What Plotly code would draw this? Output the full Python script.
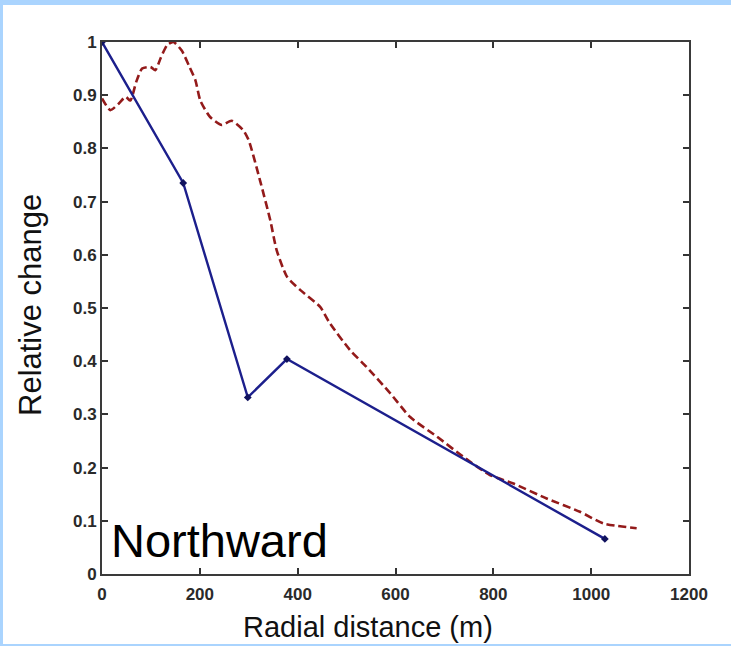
import plotly.graph_objects as go

# Measured profile (blue, with station markers)
station_x = [0, 166, 298, 378, 1028]
station_y = [1.0, 0.735, 0.332, 0.404, 0.066]

# Modelled profile (red, dashed)
model_x = [0, 17, 35, 48, 58, 70, 82, 99, 109, 120, 133, 146, 163, 178, 191,
           201, 221, 245, 265, 289, 300, 323, 344, 357, 378, 405, 446, 466,
           507, 541, 589, 630, 685, 739, 793, 841, 909, 977, 1025, 1093]
model_y = [0.894, 0.872, 0.885, 0.897, 0.890, 0.925, 0.950, 0.953, 0.947,
           0.970, 0.994, 1.000, 0.984, 0.955, 0.928, 0.890, 0.859, 0.844,
           0.852, 0.834, 0.815, 0.740, 0.665, 0.609, 0.559, 0.534, 0.502,
           0.471, 0.421, 0.389, 0.340, 0.295, 0.258, 0.220, 0.186, 0.170,
           0.142, 0.117, 0.095, 0.086]

x_ticks = [0, 200, 400, 600, 800, 1000, 1200]
y_ticks = [0, 0.1, 0.2, 0.3, 0.4, 0.5, 0.6, 0.7, 0.8, 0.9, 1]
y_tick_text = ["0", "0.1", "0.2", "0.3", "0.4", "0.5", "0.6", "0.7", "0.8", "0.9", "1"]

W, H = 731, 646
L, R, T, B = 102, 42, 42, 72
pw, ph = W - L - R, H - T - B


def px(xp):
    return (xp - L) / pw


def py(yp):
    return (H - B - yp) / ph


fig = go.Figure()

fig.add_trace(go.Scatter(
    x=model_x, y=model_y, mode="lines",
    line=dict(color="#931a1a", width=2.6, dash="8px,4px", shape="spline", smoothing=0.6),
    hoverinfo="skip", showlegend=False,
))

fig.add_trace(go.Scatter(
    x=station_x, y=station_y, mode="lines+markers",
    line=dict(color="#1c1f8c", width=2.4),
    marker=dict(symbol="diamond", size=6, color="#10125e"),
    hoverinfo="skip", showlegend=False,
))

tick_font = dict(family="Liberation Sans, Arial", size=17, weight="bold", color="#2a2a2a")

fig.update_xaxes(
    range=[0, 1200], tickvals=x_ticks, ticktext=[str(v) for v in x_ticks],
    ticks="inside", ticklen=6, tickwidth=1.5, tickcolor="#333",
    showline=True, linecolor="#3a3a3a", linewidth=2, mirror="ticks",
    showgrid=False, zeroline=False, tickfont=tick_font, ticklabelstandoff=4,
)
fig.update_yaxes(
    range=[0, 1], tickvals=y_ticks, ticktext=y_tick_text,
    ticks="inside", ticklen=6, tickwidth=1.5, tickcolor="#333",
    showline=True, linecolor="#3a3a3a", linewidth=2, mirror="ticks",
    showgrid=False, zeroline=False, tickfont=tick_font,
)

fig.add_annotation(
    text="Relative change", xref="paper", yref="paper",
    x=px(30), y=py(305), textangle=-90, showarrow=False,
    font=dict(family="Liberation Sans, Arial", size=31, color="#111"),
    xanchor="center", yanchor="middle",
)
fig.add_annotation(
    text="Radial distance (m)", xref="paper", yref="paper",
    x=px(368), y=py(627), showarrow=False,
    font=dict(family="Liberation Sans, Arial", size=29, color="#111"),
    xanchor="center", yanchor="middle",
)
fig.add_annotation(
    text="Northward", xref="paper", yref="paper",
    x=px(109), y=py(540), showarrow=False,
    font=dict(family="Liberation Sans, Arial", size=47, color="#000"),
    xanchor="left", yanchor="middle",
)

# Light blue slide frame around the figure
frame = "#aad4fe"
fig.add_shape(type="rect", xref="paper", yref="paper", x0=px(0), x1=px(W),
              y0=py(5), y1=py(0), fillcolor=frame, line_width=0, layer="below")
fig.add_shape(type="rect", xref="paper", yref="paper", x0=px(0), x1=px(3),
              y0=py(H), y1=py(0), fillcolor=frame, line_width=0, layer="below")
fig.add_shape(type="rect", xref="paper", yref="paper", x0=px(0), x1=px(W),
              y0=py(H), y1=py(H - 2), fillcolor=frame, line_width=0, layer="below")

fig.update_layout(
    width=W, height=H,
    margin=dict(l=L, r=R, t=T, b=B, pad=0),
    paper_bgcolor="white", plot_bgcolor="white",
    showlegend=False,
)

fig.write_html("out.html", config={"displayModeBar": False})
